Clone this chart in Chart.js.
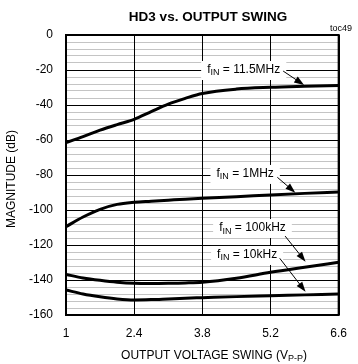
<!DOCTYPE html>
<html>
<head>
<meta charset="utf-8">
<script src="https://cdn.jsdelivr.net/npm/chart.js@4/dist/chart.umd.min.js"></script>
<style>
  body { margin: 0; background: #fff; }
  canvas { display: block; }
</style>
</head>
<body>
<canvas id="myChart" width="358" height="364"></canvas>
<script>
// values (dB)
var xValues = [1, 1.35, 1.7, 2.05, 2.4, 2.75, 3.1, 3.45, 3.8, 4.5, 5.2, 5.9, 6.6];
var xTicks = [1, 2.4, 3.8, 5.2, 6.6];
var hd3_11_5MHz = [-61.5, -58.1, -54.4, -51.2, -48.2, -43.8, -39.5, -36.2, -33.4, -30.9, -29.9, -29.3, -28.8];
var hd3_1MHz = [-109.5, -104.0, -99.6, -96.8, -95.6, -95.0, -94.4, -93.8, -93.3, -92.4, -91.4, -90.5, -89.7];
var hd3_100kHz = [-136.8, -138.8, -140.2, -141.3, -141.9, -142.0, -141.9, -141.7, -141.3, -139.0, -135.6, -132.7, -129.9];
var hd3_10kHz = [-145.7, -148.0, -149.6, -150.8, -151.4, -151.2, -150.8, -150.4, -150.1, -149.5, -149.0, -148.5, -148.0];
var seriesNames = ['11.5MHz', '1MHz', '100kHz', '10kHz'];

// label position and arrow (from -> to), in data units
var labelAt = [[4.65, -20], [4.68, -79.4], [4.83, -110.3], [4.72, -125.7]];
var arrowFrom = [[5.46, -20.6], [5.34, -81.3], [5.50, -114.9], [5.39, -127.6]];
var arrowTo = [[5.89, -28.6], [5.71, -90.1], [5.92, -129.5], [5.92, -146.7]];

var FONT = '"Liberation Sans", Arial, sans-serif';

function points(ys) {
  return xValues.map(function(x, i) { return { x: x, y: ys[i] }; });
}

function textWidth(ctx, parts) {
  var w = 0;
  parts.forEach(function(p) {
    ctx.font = (p[1] ? '9px ' : '12px ') + FONT;
    w += ctx.measureText(p[0]).width;
  });
  return w;
}

// parts: [[text, isSubscript], ...], centred on x
function subText(ctx, parts, x, y) {
  var cx = x - textWidth(ctx, parts) / 2;
  parts.forEach(function(p) {
    ctx.font = (p[1] ? '9px ' : '12px ') + FONT;
    ctx.textAlign = 'left';
    ctx.textBaseline = 'middle';
    ctx.fillText(p[0], cx, p[1] ? y + 3 : y);
    cx += ctx.measureText(p[0]).width;
  });
}

var decor = {
  id: 'decor',
  beforeDatasetsDraw: function(chart) {
    // solid vertical grid lines on top of the grey minor lines
    var ctx = chart.ctx, a = chart.chartArea, xs = chart.scales.x;
    ctx.save();
    ctx.strokeStyle = '#000';
    ctx.lineWidth = 1;
    xTicks.forEach(function(v) {
      var px = Math.round(xs.getPixelForValue(v)) + 0.5;
      ctx.beginPath();
      ctx.moveTo(px, a.top);
      ctx.lineTo(px, a.bottom);
      ctx.stroke();
    });
    ctx.restore();
  },
  afterDraw: function(chart) {
    var ctx = chart.ctx, a = chart.chartArea;
    var xs = chart.scales.x, ys = chart.scales.y;
    ctx.save();
    ctx.strokeStyle = '#000';
    ctx.lineWidth = 2;
    ctx.strokeRect(a.left, a.top, a.right - a.left, a.bottom - a.top);

    ctx.fillStyle = '#000';
    ctx.font = 'bold 13.5px ' + FONT;
    ctx.textAlign = 'center';
    ctx.textBaseline = 'middle';
    ctx.fillText('HD3 vs. OUTPUT SWING', 208, 17);

    ctx.font = '9px ' + FONT;
    ctx.textAlign = 'right';
    ctx.fillText('toc49', 352, 29);

    subText(ctx, [['OUTPUT VOLTAGE SWING (V', false], ['P-P', true], [')', false]], 214, 356);

    ctx.save();
    ctx.translate(12, 179);
    ctx.rotate(-Math.PI / 2);
    ctx.font = '12px ' + FONT;
    ctx.textAlign = 'center';
    ctx.fillText('MAGNITUDE (dB)', 0, 0);
    ctx.restore();

    for (var i = 0; i < seriesNames.length; i++) {
      var lx = xs.getPixelForValue(labelAt[i][0]);
      var ly = ys.getPixelForValue(labelAt[i][1]);
      var parts = [['f', false], ['IN', true], [' = ' + seriesNames[i], false]];
      var w = textWidth(ctx, parts);
      ctx.fillStyle = '#fff';
      ctx.fillRect(lx - w / 2 - 6, ly - 9, w + 12, 19);
      ctx.fillStyle = '#000';
      subText(ctx, parts, lx, ly);

      var x0 = xs.getPixelForValue(arrowFrom[i][0]), y0 = ys.getPixelForValue(arrowFrom[i][1]);
      var x1 = xs.getPixelForValue(arrowTo[i][0]), y1 = ys.getPixelForValue(arrowTo[i][1]);
      var ang = Math.atan2(y1 - y0, x1 - x0);
      ctx.strokeStyle = '#000';
      ctx.lineWidth = 1;
      ctx.beginPath();
      ctx.moveTo(x0, y0);
      ctx.lineTo(x1 - 6 * Math.cos(ang), y1 - 6 * Math.sin(ang));
      ctx.stroke();
      ctx.beginPath();
      ctx.moveTo(x1, y1);
      ctx.lineTo(x1 - 10 * Math.cos(ang) + 3.5 * Math.sin(ang), y1 - 10 * Math.sin(ang) - 3.5 * Math.cos(ang));
      ctx.lineTo(x1 - 10 * Math.cos(ang) - 3.5 * Math.sin(ang), y1 - 10 * Math.sin(ang) + 3.5 * Math.cos(ang));
      ctx.closePath();
      ctx.fill();
    }
    ctx.restore();
  }
};

var ctx = document.getElementById('myChart').getContext('2d');
var myChart = new Chart(ctx, {
  type: 'line',
  data: {
    datasets: [hd3_11_5MHz, hd3_1MHz, hd3_100kHz, hd3_10kHz].map(function(ys, i) {
      return {
        label: seriesNames[i],
        data: points(ys),
        borderColor: '#000',
        borderWidth: 3,
        pointRadius: 0,
        fill: false,
        cubicInterpolationMode: 'monotone'
      };
    })
  },
  options: {
    responsive: false,
    animation: false,
    layout: { padding: { top: 35, right: 7, left: 0, bottom: 0 } },
    plugins: { legend: { display: false }, tooltip: { enabled: false } },
    scales: {
      x: {
        type: 'linear',
        min: 1,
        max: 6.6,
        afterBuildTicks: function(s) { s.ticks = xTicks.map(function(v) { return { value: v }; }); },
        afterFit: function(s) { s.height = 49; },
        grid: { color: '#000', lineWidth: 1, drawTicks: false },
        border: { display: false },
        ticks: {
          color: '#000',
          padding: 11,
          maxRotation: 0,
          autoSkip: false,
          font: { family: FONT, size: 12 },
          callback: function(v) { return v === 1 ? '1' : v.toFixed(1); }
        }
      },
      y: {
        z: -1,
        min: -160,
        max: 0,
        afterFit: function(s) { s.width = 66; },
        grid: {
          drawTicks: false,
          lineWidth: 1,
          color: function(c) { return c.tick && c.tick.value % 20 === 0 ? '#000' : '#c4c4c4'; }
        },
        border: { display: false },
        ticks: {
          stepSize: 4,
          color: '#000',
          padding: 13,
          autoSkip: false,
          font: { family: FONT, size: 12 },
          callback: function(v) { return v % 20 === 0 ? String(v) : ''; }
        }
      }
    }
  },
  plugins: [decor]
});
</script>
</body>
</html>
